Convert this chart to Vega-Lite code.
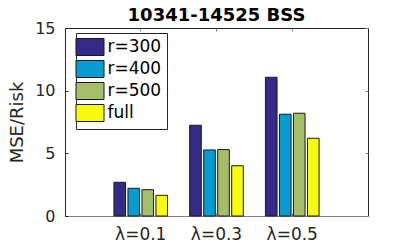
{
  "$schema": "https://vega.github.io/schema/vega-lite/v6.json",
  "width": 303,
  "height": 188,
  "autosize": {"type": "none"},
  "padding": {"left": 65, "top": 28, "right": 39, "bottom": 29},
  "config": {
    "view": {"stroke": "#262626", "strokeWidth": 1},
    "font": "DejaVu Sans"
  },
  "title": {"text": "10341-14525 BSS", "fontSize": 18, "fontWeight": "bold", "font": "DejaVu Sans", "color": "#000000", "offset": -5},
  "data": {
    "values": [
      {"lambda": "λ=0.1", "r": "r=300", "value": 2.69},
      {"lambda": "λ=0.1", "r": "r=400", "value": 2.21},
      {"lambda": "λ=0.1", "r": "r=500", "value": 2.10},
      {"lambda": "λ=0.1", "r": "full", "value": 1.65},
      {"lambda": "λ=0.3", "r": "r=300", "value": 7.24},
      {"lambda": "λ=0.3", "r": "r=400", "value": 5.27},
      {"lambda": "λ=0.3", "r": "r=500", "value": 5.30},
      {"lambda": "λ=0.3", "r": "full", "value": 4.01},
      {"lambda": "λ=0.5", "r": "r=300", "value": 11.07},
      {"lambda": "λ=0.5", "r": "r=400", "value": 8.12},
      {"lambda": "λ=0.5", "r": "r=500", "value": 8.20},
      {"lambda": "λ=0.5", "r": "full", "value": 6.20}
    ]
  },
  "resolve": {"axis": {"x": "independent", "y": "independent"}},
  "layer": [
    {
      "mark": {"type": "bar", "stroke": "#1a1a1a", "strokeWidth": 1},
      "encoding": {
        "x": {
          "field": "lambda", "type": "nominal", "sort": null,
          "scale": {"paddingInner": 0, "paddingOuter": 0.5},
          "axis": {"title": null, "labelAngle": 0, "labelFontSize": 17, "labelFont": "DejaVu Sans", "labelColor": "#262626", "tickSize": -3, "labelPadding": 13, "domainColor": "#808080", "tickColor": "#808080", "grid": false}
        },
        "xOffset": {
          "field": "r", "type": "nominal", "sort": ["r=300", "r=400", "r=500", "full"],
          "scale": {"paddingInner": 0.17, "paddingOuter": 0.79}
        },
        "y": {
          "field": "value", "type": "quantitative",
          "scale": {"domain": [0, 15], "nice": false},
          "axis": {"values": [0, 5, 10, 15], "title": "MSE/Risk", "titleFontSize": 18, "titleFont": "DejaVu Sans", "titleFontWeight": "normal", "titleColor": "#262626", "labelFontSize": 16, "labelFont": "DejaVu Sans", "labelColor": "#262626", "tickSize": -3, "labelPadding": 13, "domainColor": "#262626", "tickColor": "#262626", "grid": false, "titlePadding": 8}
        },
        "color": {
          "field": "r", "type": "nominal", "sort": ["r=300", "r=400", "r=500", "full"],
          "scale": {"domain": ["r=300", "r=400", "r=500", "full"], "range": ["#352A87", "#079CCF", "#A5BE6B", "#F9FB0E"]},
          "legend": {
            "orient": "none", "legendX": 11, "legendY": 5, "title": null,
            "symbolType": "M-1.65,-1H1.65V1H-1.65Z", "symbolSize": 289,
            "symbolStrokeColor": "#1a1a1a", "symbolStrokeWidth": 1, "symbolOpacity": 1,
            "labelFont": "DejaVu Sans", "labelFontSize": 17, "labelColor": "#000000", "labelOffset": 8.5,
            "rowPadding": 0, "padding": 5, "fillColor": "#ffffff", "strokeColor": "#262626"
          }
        }
      }
    },
    {
      "mark": {"type": "point", "opacity": 0},
      "encoding": {
        "x": {
          "field": "lambda", "type": "nominal", "sort": null,
          "scale": {"paddingInner": 0, "paddingOuter": 0.5},
          "axis": {"orient": "top", "title": null, "labels": false, "tickSize": -3, "domain": false, "tickColor": "#808080", "grid": false}
        },
        "y": {
          "field": "value", "type": "quantitative",
          "axis": {"orient": "right", "values": [0, 5, 10, 15], "title": null, "labels": false, "tickSize": -3, "domain": false, "tickColor": "#808080", "grid": false}
        }
      }
    }
  ]
}
